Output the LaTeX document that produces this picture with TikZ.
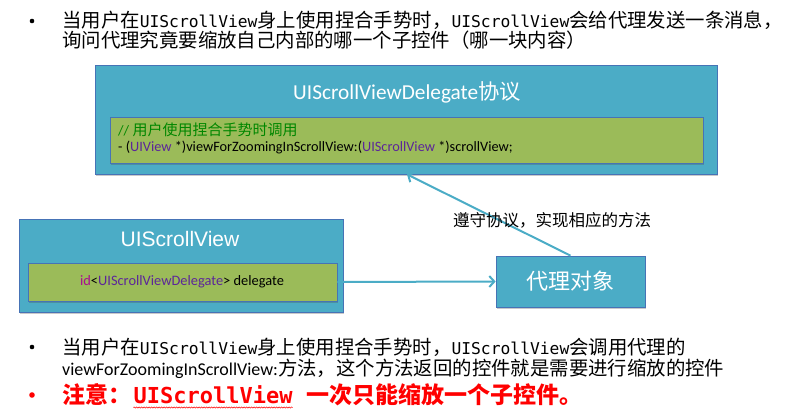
\documentclass[tikz,border=0pt]{standalone}
\usepackage{fontspec}
\usetikzlibrary{arrows.meta,shadows,decorations.pathmorphing}
\newfontfamily\cjk{Noto Sans CJK SC}
\newfontfamily\monof{DejaVu Sans Mono}
\newfontfamily\calf{Carlito}
\newfontfamily\arialf{Liberation Sans}
\definecolor{boxblue}{RGB}{75,172,198}
\definecolor{boxborder}{RGB}{70,115,182}
\definecolor{boxgreen}{RGB}{155,187,89}
\definecolor{cgreen}{RGB}{0,135,0}
\definecolor{kpurple}{RGB}{92,38,153}
\definecolor{kmag}{RGB}{170,13,145}
\definecolor{arrowcol}{RGB}{75,172,198}
\newcommand\mono[2][16.3]{{\monof\fontsize{#1}{#1}\selectfont #2}}
\begin{document}
\begin{tikzpicture}[x=1pt,y=-1pt,
  box/.style={draw=boxborder, line width=0.75pt, inner sep=0pt,
    drop shadow={shadow xshift=1.2pt, shadow yshift=-1.8pt, opacity=0.3, fill=black!70}},
  bluebox/.style={box, fill=boxblue},
  greenbox/.style={box, fill=boxgreen},
  txt/.style={inner sep=0pt, anchor=base west},
  dot/.style={circle, fill, inner sep=0pt, minimum size=4.6pt},
  conn/.style={draw=arrowcol, line width=2pt, -{Straight Barb[length=5pt,width=11pt]}},
  bodyfont/.style={font=\cjk\fontsize{19.4}{19.4}\selectfont}]
\useasboundingbox (0,0) rectangle (800,411);

% top bullet
\node[dot] (dot1) at (32,21) {};
\node[txt, bodyfont] (t1) at (62,28) {当用户在\mono{UIScrollView}身上使用捏合手势时，\mono{UIScrollView}会给代理发送一条消息，};
\node[txt, bodyfont] (t2) at (62,48) {询问代理究竟要缩放自己内部的哪一个子控件（哪一块内容）};

% protocol box
\node[bluebox, minimum width=622pt, minimum height=109pt] (proto) at (406,119.5) {};
\node[inner sep=0pt, text=white, font=\cjk\fontsize{21.3}{21.3}\selectfont] (prototitle) at (407,92) {{\calf UIScrollViewDelegate}协议};
\node[greenbox, minimum width=593pt, minimum height=46pt] (codebox) at (406.5,140) {};
\node[txt, text=cgreen, font=\cjk\fontsize{15}{15}\selectfont] (comment) at (118,136) {{\calf\fontsize{14.3}{14.3}\selectfont //} 用户使用捏合手势时调用};
\node[txt, font=\calf\fontsize{14.3}{14.3}\selectfont] (sig) at (118,152) {- (\textcolor{kpurple}{UIView} *)viewForZoomingInScrollView:(\textcolor{kpurple}{UIScrollView} *)scrollView;};

% UIScrollView box
\node[bluebox, minimum width=324pt, minimum height=93pt] (sv) at (181,265.5) {};
\node[inner sep=0pt, text=white, font=\arialf\fontsize{21}{21}\selectfont] (svtitle) at (180,239) {UIScrollView};
\node[greenbox, minimum width=309pt, minimum height=38pt] (ivar) at (182.5,282) {};
\node[inner sep=0pt, font=\calf\fontsize{14.4}{14.4}\selectfont] (ivartext) at (182,282) {\textcolor{kmag}{id}<\textcolor{kpurple}{UIScrollViewDelegate}> delegate};

% delegate object
\node[bluebox, minimum width=149pt, minimum height=51pt, text=white, font=\cjk\fontsize{22}{22}\selectfont] (dlg) at (570.5,281.5) {代理对象};

% connectors
\draw[conn] (ivar.east) -- (dlg.west);
\draw[conn] (dlg.north) -- ([xshift=1pt]proto.south);
\node[inner sep=0pt, font=\cjk\fontsize{16.5}{16.5}\selectfont] (lbl) at (552,220) {遵守协议，实现相应的方法};

% bottom bullets
\node[dot] (dot2) at (32,347) {};
\node[txt, bodyfont] (b1) at (62,354) {当用户在\mono{UIScrollView}身上使用捏合手势时，\mono{UIScrollView}会调用代理的};
\node[txt, bodyfont] (b2) at (62,375) {{\calf\fontsize{18}{18}\selectfont viewForZoomingInScrollView:}方法，这个方法返回的控件就是需要进行缩放的控件};

\node[dot, red, minimum size=5.6pt] (dot3) at (32,395) {};
\node[txt, text=red, font=\cjk\bfseries\fontsize{23}{23}\selectfont] (r1) at (62,403) {注意：};
\node[txt, text=red, font=\monof\bfseries\fontsize{22}{22}\selectfont] (r2) at ([xshift=2pt]r1.base east) {UIScrollView};
\node[txt, text=red, font=\cjk\bfseries\fontsize{23}{23}\selectfont] (r3) at ([xshift=14pt]r2.base east) {一次只能缩放一个子控件。};
\draw[red, line width=0.5pt, decorate, decoration={snake, amplitude=0.6pt, segment length=2.5pt}]
  ([yshift=-4.5pt]r2.base west) -- ([yshift=-4.5pt]r2.base east);
\end{tikzpicture}
\end{document}
